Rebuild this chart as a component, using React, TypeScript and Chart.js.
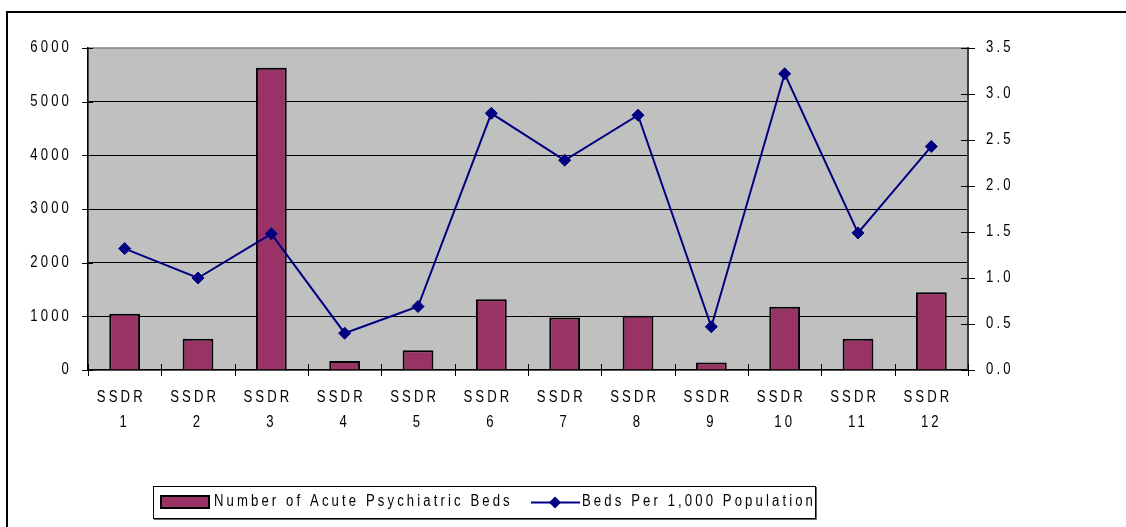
import React, { useEffect, useRef } from 'react';
import { Chart, registerables } from 'chart.js';

Chart.register(...registerables);

// ---- data ----
const regionLines: string[][] = [
  ['SSDR ', '1'], ['SSDR ', '2'], ['SSDR ', '3'], ['SSDR ', '4'],
  ['SSDR ', '5'], ['SSDR ', '6'], ['SSDR ', '7'], ['SSDR ', '8'],
  ['SSDR ', '9'], ['SSDR ', '10'], ['SSDR ', '11'], ['SSDR ', '12'],
];
const acuteBeds: number[] = [1050, 580, 5630, 170, 370, 1320, 980, 1010, 140, 1180, 580, 1450];
const bedsPerThousand: number[] = [1.32, 1.0, 1.48, 0.4, 0.69, 2.79, 2.28, 2.77, 0.47, 3.22, 1.49, 2.43];
const bedsAxis = { min: 0, max: 6000, step: 1000 };
const rateAxis = { min: 0, max: 3.5, step: 0.5 };
const seriesNames: string[] = ['Number of Acute Psychiatric Beds', 'Beds Per 1,000 Population'];

// ---- style ----
const FAMILY = '"Liberation Sans", Arial, sans-serif';
const LS = '3.8px'; // applied before the horizontal condense
const SX = 0.82; // horizontal condense of glyphs (Arial Narrow look)
const BAR_FILL = '#993366';
const LINE_COLOR = '#000080';
const PLOT_BG = '#c0c0c0';

const excelPlugin = {
  id: 'excelLook',
  beforeInit(chart: any) {
    const ctx = chart.ctx;
    if (ctx.__narrowed) return;
    ctx.__narrowed = true;
    const origFill = ctx.fillText.bind(ctx);
    const origMeasure = ctx.measureText.bind(ctx);
    ctx.fillText = (text: string, x: number, y: number) => {
      ctx.save();
      ctx.translate(x, y);
      ctx.scale(SX, 1);
      origFill(text, 0, 0);
      ctx.restore();
    };
    ctx.measureText = (text: string) => {
      const m = origMeasure(text);
      return {
        width: m.width * SX,
        actualBoundingBoxAscent: m.actualBoundingBoxAscent,
        actualBoundingBoxDescent: m.actualBoundingBoxDescent,
        actualBoundingBoxLeft: m.actualBoundingBoxLeft * SX,
        actualBoundingBoxRight: m.actualBoundingBoxRight * SX,
      };
    };
  },
  beforeUpdate(chart: any) {
    chart.ctx.letterSpacing = LS;
  },
  beforeLayout(chart: any) {
    chart.ctx.letterSpacing = LS;
  },
  beforeDraw(chart: any) {
    const { ctx, chartArea: a, width, height } = chart;
    ctx.save();
    ctx.fillStyle = '#ffffff';
    ctx.fillRect(0, 0, width, height);
    // outer frame (left & top visible)
    ctx.fillStyle = '#000000';
    ctx.fillRect(6, 11, 2, height - 11);
    ctx.fillRect(6, 11, width - 6, 2);
    // plot area
    ctx.fillStyle = PLOT_BG;
    ctx.fillRect(a.left, a.top, a.right - a.left, a.bottom - a.top);
    ctx.strokeStyle = '#808080';
    ctx.lineWidth = 1.5;
    ctx.strokeRect(a.left, a.top, a.right - a.left, a.bottom - a.top);
    ctx.restore();
    ctx.letterSpacing = LS;
  },
  afterDraw(chart: any) {
    const { ctx, chartArea: a } = chart;
    const x = chart.scales.x;
    const y = chart.scales.y;
    const y1 = chart.scales.y1;
    ctx.save();
    // crossing tick marks
    ctx.strokeStyle = '#000000';
    ctx.lineWidth = 1;
    ctx.beginPath();
    y.ticks.forEach((_t: any, i: number) => {
      const py = Math.round(y.getPixelForTick(i)) + 0.5;
      ctx.moveTo(a.left - 6, py);
      ctx.lineTo(a.left + 5, py);
    });
    y1.ticks.forEach((_t: any, i: number) => {
      const py = Math.round(y1.getPixelForTick(i)) + 0.5;
      ctx.moveTo(a.right - 7, py);
      ctx.lineTo(a.right + 7, py);
    });
    const n = x.ticks.length;
    for (let i = 0; i <= n; i++) {
      const px = i === 0 ? a.left : i === n ? a.right : (x.getPixelForTick(i - 1) + x.getPixelForTick(i)) / 2;
      const rx = Math.round(px) + 0.5;
      ctx.moveTo(rx, a.bottom - 6);
      ctx.lineTo(rx, a.bottom + 6);
    }
    ctx.stroke();

    // legend box
    const ds = chart.data.datasets;
    ctx.fillStyle = '#ffffff';
    ctx.fillRect(153, 486, 663, 33);
    ctx.strokeStyle = '#000000';
    ctx.lineWidth = 1;
    ctx.strokeRect(153.5, 486.5, 662, 32);
    ctx.strokeStyle = '#666666';
    ctx.beginPath();
    ctx.moveTo(816.5, 487);
    ctx.lineTo(816.5, 519.5);
    ctx.lineTo(154, 519.5);
    ctx.stroke();

    // bar swatch
    ctx.fillStyle = ds[0].backgroundColor;
    ctx.fillRect(161, 496, 48, 12);
    ctx.strokeStyle = '#000000';
    ctx.lineWidth = 2;
    ctx.strokeRect(161, 496, 48, 12);

    // line swatch
    ctx.strokeStyle = ds[1].borderColor;
    ctx.lineWidth = 2;
    ctx.beginPath();
    ctx.moveTo(531, 502.5);
    ctx.lineTo(580, 502.5);
    ctx.stroke();
    ctx.fillStyle = ds[1].borderColor;
    ctx.beginPath();
    ctx.moveTo(555, 496.5);
    ctx.lineTo(561, 502.5);
    ctx.lineTo(555, 508.5);
    ctx.lineTo(549, 502.5);
    ctx.closePath();
    ctx.fill();

    ctx.letterSpacing = LS;
    ctx.fillStyle = '#000000';
    ctx.font = `16px ${FAMILY}`;
    ctx.textAlign = 'left';
    ctx.textBaseline = 'middle';
    ctx.fillText(ds[0].label, 214, 502);
    ctx.fillText(ds[1].label, 582, 502);
    ctx.restore();
    ctx.letterSpacing = LS;
  },
};

export default function App() {
  const canvasRef = useRef<HTMLCanvasElement | null>(null);

  useEffect(() => {
    const canvas = canvasRef.current;
    if (!canvas) return;
    const tickFont = { family: FAMILY, size: 16, lineHeight: 1.5625 };
    const chart = new Chart(canvas, {
      type: 'bar',
      data: {
        labels: regionLines,
        datasets: [
          {
            type: 'bar',
            label: seriesNames[0],
            data: acuteBeds,
            backgroundColor: BAR_FILL,
            borderColor: '#000000',
            borderWidth: 2,
            barPercentage: 0.42,
            categoryPercentage: 1,
            yAxisID: 'y',
            order: 1,
          },
          {
            type: 'line',
            label: seriesNames[1],
            data: bedsPerThousand,
            borderColor: LINE_COLOR,
            backgroundColor: LINE_COLOR,
            borderWidth: 2,
            tension: 0,
            pointStyle: 'rectRot',
            pointRadius: 6,
            pointBackgroundColor: LINE_COLOR,
            pointBorderColor: LINE_COLOR,
            pointBorderWidth: 1,
            yAxisID: 'y1',
            order: 0,
          },
        ],
      } as any,
      options: {
        responsive: true,
        maintainAspectRatio: false,
        animation: false,
        layout: { padding: { top: 48, bottom: 97, left: 0, right: 0 } },
        plugins: {
          legend: { display: false },
          tooltip: { enabled: false },
        },
        scales: {
          x: {
            offset: true,
            grid: { display: false, drawTicks: false },
            border: { color: '#000000', width: 1.5 },
            ticks: { color: '#000000', font: tickFont, padding: 15, maxRotation: 0, autoSkip: false },
            afterFit: (s: any) => { s.height = 60; },
          },
          y: {
            position: 'left',
            min: bedsAxis.min,
            max: bedsAxis.max,
            ticks: {
              stepSize: bedsAxis.step,
              color: '#000000',
              font: tickFont,
              padding: 16,
              callback: (v: any) => String(v),
            },
            grid: {
              drawTicks: false,
              lineWidth: 1,
              color: (c: any) =>
                c.tick && (c.tick.value === bedsAxis.min || c.tick.value === bedsAxis.max)
                  ? 'rgba(0,0,0,0)'
                  : '#000000',
            },
            border: { color: '#000000', width: 1.5 },
            afterFit: (s: any) => { s.width = 88; },
          },
          y1: {
            position: 'right',
            min: rateAxis.min,
            max: rateAxis.max,
            ticks: {
              stepSize: rateAxis.step,
              color: '#000000',
              font: tickFont,
              padding: 18,
              callback: (v: any) => Number(v).toFixed(1),
            },
            grid: { display: false, drawTicks: false },
            border: { color: '#404040', width: 2 },
            afterFit: (s: any) => { s.width = 158; },
          },
        },
      } as any,
      plugins: [excelPlugin],
    });
    return () => chart.destroy();
  }, []);

  return (
    <div style={{ position: 'absolute', left: 0, top: 0, width: 1126, height: 527 }}>
      <canvas ref={canvasRef} />
    </div>
  );
}
